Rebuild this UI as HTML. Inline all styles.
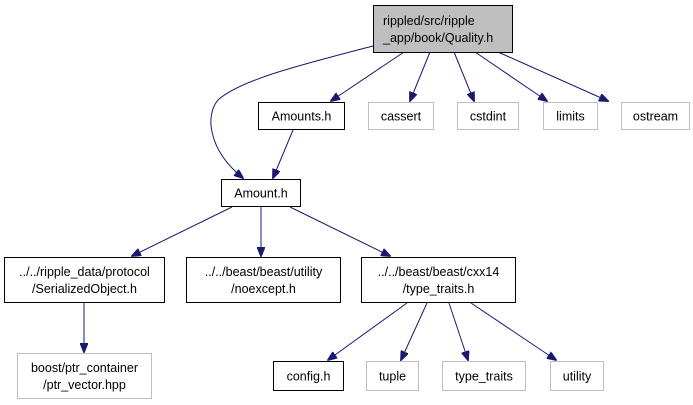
<!DOCTYPE html>
<html><head><meta charset="utf-8"><style>
html,body{margin:0;padding:0;background:#fff;width:693px;height:405px;overflow:hidden}
text{font-family:"Liberation Sans",sans-serif;font-size:12.5px;fill:#000}
</style></head><body>
<svg width="693" height="405" viewBox="0 0 693 405" xmlns="http://www.w3.org/2000/svg">
<defs><marker id="a" markerWidth="10" markerHeight="8" refX="9" refY="4" orient="auto" markerUnits="userSpaceOnUse"><path d="M0,0 L10,4 L0,8 Z" fill="#191970" stroke="#191970"/></marker></defs>
<g fill="none" stroke="#191970" stroke-width="1" marker-end="url(#a)">
<path d="M373,46 C300,65 240,80 218,100 C205,115 208,150 243,178"/>
<path d="M404,52 L331,101"/>
<path d="M430,52 L410,101"/>
<path d="M454,52 L474,101"/>
<path d="M475,52 L547,101"/>
<path d="M498,52 L608,101"/>
<path d="M293,130 L273,178"/>
<path d="M232,207 L132,256"/>
<path d="M261,207 L261,256"/>
<path d="M290,207 L390,256"/>
<path d="M84,303 L84,352"/>
<path d="M407,303 L328,360"/>
<path d="M427,303 L401,360"/>
<path d="M449,303 L468,360"/>
<path d="M471,303 L556,360"/>
</g>
<g stroke-width="1">
<rect x="373.5" y="5.5" width="139" height="47" fill="#bfbfbf" stroke="#000"/>
<rect x="258.5" y="102.5" width="86" height="27" fill="#fff" stroke="#000"/>
<rect x="368.5" y="102.5" width="65" height="27" fill="#fff" stroke="#bfbfbf"/>
<rect x="457.5" y="102.5" width="61" height="27" fill="#fff" stroke="#bfbfbf"/>
<rect x="543.5" y="102.5" width="54" height="27" fill="#fff" stroke="#bfbfbf"/>
<rect x="621.5" y="102.5" width="68" height="27" fill="#fff" stroke="#bfbfbf"/>
<rect x="221.5" y="179.5" width="79" height="27" fill="#fff" stroke="#000"/>
<rect x="4.5" y="257.5" width="160" height="45" fill="#fff" stroke="#000"/>
<rect x="186.5" y="257.5" width="154" height="45" fill="#fff" stroke="#000"/>
<rect x="361.5" y="257.5" width="154" height="45" fill="#fff" stroke="#000"/>
<rect x="17.5" y="353.5" width="134" height="45" fill="#fff" stroke="#bfbfbf"/>
<rect x="273.5" y="361.5" width="70" height="29" fill="#fff" stroke="#000"/>
<rect x="366.5" y="361.5" width="52" height="29" fill="#fff" stroke="#bfbfbf"/>
<rect x="442.5" y="361.5" width="83" height="29" fill="#fff" stroke="#bfbfbf"/>
<rect x="550.5" y="361.5" width="53" height="29" fill="#fff" stroke="#bfbfbf"/>
</g>
<g>
<text x="383" y="25">rippled/src/ripple</text>
<text x="383" y="42">_app/book/Quality.h</text>
<text x="301.5" y="120.5" text-anchor="middle">Amounts.h</text>
<text x="401" y="120.5" text-anchor="middle">cassert</text>
<text x="488" y="120.5" text-anchor="middle">cstdint</text>
<text x="570.5" y="120.5" text-anchor="middle">limits</text>
<text x="655.5" y="120.5" text-anchor="middle">ostream</text>
<text x="261" y="197.5" text-anchor="middle">Amount.h</text>
<text x="84.5" y="276" text-anchor="middle">../../ripple_data/protocol</text>
<text x="84.5" y="293" text-anchor="middle">/SerializedObject.h</text>
<text x="263.5" y="276" text-anchor="middle">../../beast/beast/utility</text>
<text x="263.5" y="293" text-anchor="middle">/noexcept.h</text>
<text x="438.5" y="276" text-anchor="middle">../../beast/beast/cxx14</text>
<text x="438.5" y="293" text-anchor="middle">/type_traits.h</text>
<text x="84.5" y="372" text-anchor="middle">boost/ptr_container</text>
<text x="84.5" y="389" text-anchor="middle">/ptr_vector.hpp</text>
<text x="308.5" y="380.5" text-anchor="middle">config.h</text>
<text x="392.5" y="380.5" text-anchor="middle">tuple</text>
<text x="484" y="380.5" text-anchor="middle">type_traits</text>
<text x="577" y="380.5" text-anchor="middle">utility</text>
</g>
</svg>
</body></html>
